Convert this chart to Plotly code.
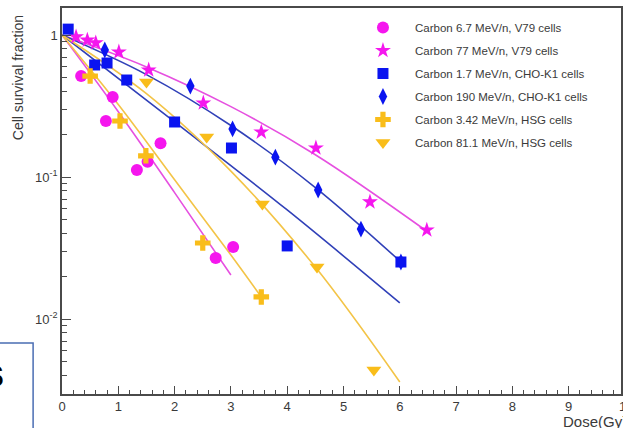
import plotly.graph_objects as go

# ---------------- data ----------------
labels = ["Carbon 6.7 MeV/n, V79 cells", "Carbon 77 MeV/n, V79 cells",
          "Carbon 1.7 MeV/n, CHO-K1 cells", "Carbon 190 MeV/n, CHO-K1 cells",
          "Carbon 3.42 MeV/n, HSG cells", "Carbon 81.1 MeV/n, HSG cells"]

dose_c67 = [0.34, 0.78, 0.90, 1.33, 1.52, 1.75, 2.73, 3.04]
surv_c67 = [0.514, 0.248, 0.366, 0.112, 0.128, 0.173, 0.0269, 0.0321]
dose_c77 = [0.25, 0.45, 0.60, 1.01, 1.54, 2.51, 3.54, 4.51, 5.47, 6.48]
surv_c77 = [0.97, 0.92, 0.88, 0.759, 0.567, 0.332, 0.207, 0.160, 0.0667, 0.0423]
dose_c17 = [0.11, 0.58, 0.80, 1.15, 2.00, 3.01, 4.00, 6.02]
surv_c17 = [1.10, 0.615, 0.635, 0.482, 0.244, 0.160, 0.0327, 0.0252]
dose_c190 = [0.76, 2.28, 3.03, 3.79, 4.55, 5.31, 6.02]
surv_c190 = [0.784, 0.437, 0.218, 0.138, 0.081, 0.043, 0.0252]
dose_c342 = [0.50, 1.03, 1.49, 2.50, 3.54]
surv_c342 = [0.514, 0.248, 0.141, 0.0343, 0.0143]
dose_c811 = [1.50, 2.57, 3.56, 4.53, 5.54]
surv_c811 = [0.467, 0.191, 0.0645, 0.0232, 0.00437]

# fitted curves
fit_c67_d = [0, 1, 2, 3]
fit_c67_s = [1, 0.288, 0.0776, 0.0204]
fit_c77_d = [0, 1.5, 3, 4.5, 6.5]
fit_c77_s = [1, 0.596, 0.313, 0.1435, 0.0410]
fit_c17_d = [0, 2, 4, 6]
fit_c17_s = [1, 0.244, 0.0586, 0.01297]
fit_c190_d = [0, 1.5, 3, 4.5, 6.02]
fit_c190_s = [1, 0.526, 0.2304, 0.0843, 0.0252]
fit_c342_d = [0, 1, 2, 3, 3.54]
fit_c342_s = [1, 0.3236, 0.0955, 0.0282, 0.01429]
fit_c811_d = [0, 1.5, 3, 4.5, 6]
fit_c811_s = [1, 0.386, 0.110, 0.0232, 0.0036]

x_ticks = [0, 1, 2, 3, 4, 5, 6, 7, 8, 9]
y_ticks = [1, 0.1, 0.01]
y_ticktext = ["1", "10<sup>-1</sup>", "10<sup>-2</sup>"]

# ---------------- style ----------------
MAG, BLUE, GOLD = "#f516ee", "#0a14f0", "#f9bd1a"
LMAG, LBLUE, LGOLD = "#e650e0", "#3040b8", "#f3c447"

series = [
    (dose_c67, surv_c67, fit_c67_d, fit_c67_s, MAG, LMAG, "circle", 12),
    (dose_c77, surv_c77, fit_c77_d, fit_c77_s, MAG, LMAG, "star", 12),
    (dose_c17, surv_c17, fit_c17_d, fit_c17_s, BLUE, LBLUE, "square", 11),
    (dose_c190, surv_c190, fit_c190_d, fit_c190_s, BLUE, LBLUE, "diamond-tall", 12),
    (dose_c342, surv_c342, fit_c342_d, fit_c342_s, GOLD, LGOLD, "cross", 13),
    (dose_c811, surv_c811, fit_c811_d, fit_c811_s, GOLD, LGOLD, "triangle-down", 13),
]

fig = go.Figure()
for i, (dx, sy, fd, fs, mc, lc, sym, sz) in enumerate(series):
    fig.add_trace(go.Scatter(x=fd, y=fs, mode="lines", line=dict(color=lc, width=1.6, shape="spline"),
                             legendgroup=str(i), showlegend=False, hoverinfo="skip"))
for i, (dx, sy, fd, fs, mc, lc, sym, sz) in enumerate(series):
    fig.add_trace(go.Scatter(x=dx, y=sy, mode="markers", name=labels[i], legendgroup=str(i),
                             marker=dict(color=mc, symbol=sym, size=sz, line=dict(width=0))))

W, H = 623, 428
L, R, T, B = 62, 0, 8, 34
pw, ph = W - L - R, H - T - B
px_per_unit = 56.5
pxd = 142.0

def paper_x(px):
    return (px - L) / pw

def paper_y(py):
    return (H - B - py) / ph

axcol = "#4a4a4a"
FONT = "Liberation Sans, Arial, sans-serif"
tickfont = dict(family=FONT, size=13, color="#3a3a3a")

minor_y = [m * 10 ** e for e in (-3, -2, -1, 0) for m in range(2, 10)]

fig.update_layout(
    width=W, height=H, margin=dict(l=L, r=R, t=T, b=B),
    paper_bgcolor="white", plot_bgcolor="white",
    showlegend=True,
    legend=dict(x=paper_x(352), y=paper_y(13), xanchor="left", yanchor="top",
                font=dict(family=FONT, size=11.5, color="#3a3a3a"),
                bgcolor="rgba(0,0,0,0)", tracegroupgap=4, itemwidth=54),
    xaxis=dict(range=[0, pw / px_per_unit], tickmode="array", tickvals=x_ticks,
               ticks="inside", ticklen=8, tickwidth=1.2, tickcolor=axcol,
               showline=True, linecolor=axcol, linewidth=1.5, mirror=True,
               showgrid=False, zeroline=False, tickfont=tickfont,
               minor=dict(dtick=0.2, tick0=0, ticks="inside", ticklen=4, tickwidth=1, tickcolor=axcol)),
    yaxis=dict(type="log", range=[-(H - B - 35) / pxd, (35 - T) / pxd],
               tickmode="array", tickvals=y_ticks, ticktext=y_ticktext,
               ticks="inside", ticklen=9, tickwidth=1.2, tickcolor=axcol,
               showline=True, linecolor=axcol, linewidth=1.5, mirror=True,
               showgrid=False, zeroline=False, tickfont=tickfont,
               minor=dict(tickmode="array", tickvals=minor_y, ticks="inside", ticklen=5,
                          tickwidth=1, tickcolor=axcol)),
)

fig.add_annotation(text="Cell survival fraction", xref="paper", yref="paper",
                   x=paper_x(18), y=paper_y(78), textangle=-90, showarrow=False,
                   xanchor="center", yanchor="middle",
                   font=dict(family=FONT, size=14, color="#3a3a3a"))
fig.add_annotation(text="Dose(Gy)", xref="paper", yref="paper",
                   x=paper_x(563), y=paper_y(421), showarrow=False,
                   xanchor="left", yanchor="middle",
                   font=dict(family=FONT, size=15, color="#3a3a3a"))
fig.add_annotation(text="10", xref="paper", yref="paper",
                   x=paper_x(628), y=paper_y(406), showarrow=False,
                   xanchor="center", yanchor="middle", font=tickfont)

# cropped slide box at lower left
fig.add_shape(type="rect", xref="paper", yref="paper",
              x0=paper_x(-5), x1=paper_x(33), y0=paper_y(440), y1=paper_y(343),
              line=dict(color="#4a6db3", width=1.5), fillcolor="white", layer="above")
fig.add_annotation(text="<b>s</b>", xref="paper", yref="paper",
                   x=paper_x(6), y=paper_y(373), showarrow=False,
                   xanchor="right", yanchor="middle",
                   font=dict(family=FONT, size=40, color="black"))

fig.write_html("out.html")
